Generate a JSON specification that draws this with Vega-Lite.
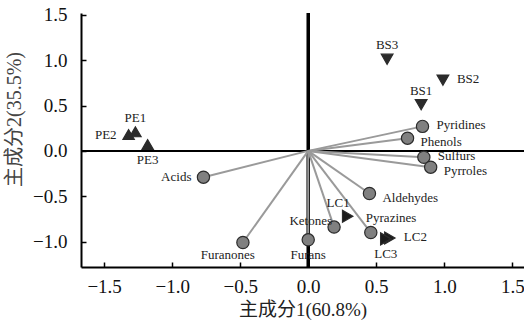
{
  "$schema": "https://vega.github.io/schema/vega-lite/v6.json",
  "width": 443,
  "height": 254,
  "autosize": {"type": "none"},
  "padding": {"left": 81, "top": 13, "right": 0, "bottom": 54},
  "background": "white",
  "config": {
    "view": {"stroke": null},
    "axis": {
      "grid": false,
      "domainColor": "#000000",
      "domainWidth": 2,
      "tickColor": "#000000",
      "tickWidth": 1.5,
      "tickSize": -5
    }
  },
  "data": {
    "values": [
      {"name": "PE1", "x": -1.27, "y": 0.21, "group": "PE", "pos": "above"},
      {"name": "PE2", "x": -1.32, "y": 0.18, "group": "PE", "pos": "left"},
      {"name": "PE3", "x": -1.18, "y": 0.07, "group": "PE", "pos": "below"},
      {"name": "BS3", "x": 0.58, "y": 1.01, "group": "BS", "pos": "above"},
      {"name": "BS2", "x": 0.99, "y": 0.78, "group": "BS", "pos": "right"},
      {"name": "BS1", "x": 0.83, "y": 0.51, "group": "BS", "pos": "above"},
      {"name": "LC1", "x": 0.29, "y": -0.72, "group": "LC", "pos": "aboveleft"},
      {"name": "LC2", "x": 0.6, "y": -0.96, "group": "LC", "pos": "right"},
      {"name": "LC3", "x": 0.57, "y": -0.97, "group": "LC", "pos": "below"},
      {"name": "Pyridines", "x": 0.84, "y": 0.27, "group": "var", "pos": "right"},
      {"name": "Phenols", "x": 0.73, "y": 0.14, "group": "var", "pos": "belowright"},
      {"name": "Sulfurs", "x": 0.85, "y": -0.07, "group": "var", "pos": "right"},
      {"name": "Pyrroles", "x": 0.9, "y": -0.18, "group": "var", "pos": "belowright"},
      {"name": "Aldehydes", "x": 0.45, "y": -0.47, "group": "var", "pos": "belowright"},
      {"name": "Pyrazines", "x": 0.46, "y": -0.9, "group": "var", "pos": "aboveright"},
      {"name": "Ketones", "x": 0.19, "y": -0.84, "group": "var", "pos": "upleft"},
      {"name": "Furans", "x": 0.0, "y": -0.98, "group": "var", "pos": "below"},
      {"name": "Acids", "x": -0.77, "y": -0.29, "group": "var", "pos": "left"},
      {"name": "Furanones", "x": -0.48, "y": -1.01, "group": "var", "pos": "belowleft"}
    ]
  },
  "encoding": {
    "x": {
      "field": "x",
      "type": "quantitative",
      "scale": {"domain": [-1.67, 1.586], "nice": false, "zero": false},
      "axis": {
        "title": "主成分1(60.8%)",
        "values": [-1.5, -1, -0.5, 0, 0.5, 1, 1.5],
        "labelFont": "Liberation Serif",
        "labelFontSize": 19,
        "labelColor": "#111111",
        "labelPadding": 15,
        "titleFont": "Liberation Serif, Noto Sans CJK SC",
        "titleFontSize": 19,
        "titleFontWeight": "normal",
        "titleColor": "#222222",
        "titlePadding": 4
      }
    },
    "y": {
      "field": "y",
      "type": "quantitative",
      "scale": {"domain": [-1.28, 1.52], "nice": false, "zero": false},
      "axis": {
        "title": "主成分2(35.5%)",
        "values": [-1, -0.5, 0, 0.5, 1, 1.5],
        "labelFont": "Liberation Serif",
        "labelFontSize": 19,
        "labelColor": "#111111",
        "labelPadding": 19,
        "titleFont": "Liberation Serif, Noto Sans CJK SC",
        "titleFontSize": 20,
        "titleFontWeight": "normal",
        "titleColor": "#444444",
        "titlePadding": 8,
        "titleY": 106
      }
    }
  },
  "layer": [
    {
      "mark": {"type": "rule", "color": "#000000", "strokeWidth": 2.5},
      "encoding": {
        "x": {"datum": 0, "type": "quantitative"},
        "y": {"datum": -1.28, "type": "quantitative"},
        "y2": {"datum": 1.52}
      }
    },
    {
      "mark": {"type": "rule", "color": "#000000", "strokeWidth": 1},
      "encoding": {
        "y": {"datum": 0, "type": "quantitative"},
        "x": {"datum": -1.67, "type": "quantitative"},
        "x2": {"datum": 1.586}
      }
    },
    {
      "transform": [{"filter": "datum.group == 'var'"}],
      "mark": {"type": "rule", "color": "#9a9a9a", "strokeWidth": 2},
      "encoding": {
        "x": {"datum": 0, "type": "quantitative"},
        "y": {"datum": 0, "type": "quantitative"},
        "x2": {"field": "x"},
        "y2": {"field": "y"}
      }
    },
    {
      "mark": {"type": "point", "filled": true, "opacity": 1, "stroke": "#2b2b2b", "strokeWidth": 1.2},
      "encoding": {
        "shape": {
          "field": "group",
          "type": "nominal",
          "scale": {"domain": ["PE", "BS", "LC", "var"], "range": ["triangle-up", "triangle-down", "triangle-right", "circle"]},
          "legend": null
        },
        "fill": {
          "field": "group",
          "type": "nominal",
          "scale": {"domain": ["PE", "BS", "LC", "var"], "range": ["#2b2b2b", "#2b2b2b", "#1a1a1a", "#808080"]},
          "legend": null
        },
        "size": {
          "field": "group",
          "type": "nominal",
          "scale": {"domain": ["PE", "BS", "LC", "var"], "range": [130, 150, 150, 170]},
          "legend": null
        }
      }
    },
    {
      "transform": [{"filter": "datum.pos == 'above'"}],
      "mark": {"type": "text", "font": "Liberation Serif", "fontSize": 13, "color": "#222222", "align": "center", "baseline": "middle", "dy": -14},
      "encoding": {"text": {"field": "name"}}
    },
    {
      "transform": [{"filter": "datum.pos == 'below'"}],
      "mark": {"type": "text", "font": "Liberation Serif", "fontSize": 13, "color": "#222222", "align": "center", "baseline": "middle", "dy": 15},
      "encoding": {"text": {"field": "name"}}
    },
    {
      "transform": [{"filter": "datum.pos == 'left'"}],
      "mark": {"type": "text", "font": "Liberation Serif", "fontSize": 13, "color": "#222222", "align": "right", "baseline": "middle", "dx": -12},
      "encoding": {"text": {"field": "name"}}
    },
    {
      "transform": [{"filter": "datum.pos == 'right'"}],
      "mark": {"type": "text", "font": "Liberation Serif", "fontSize": 13, "color": "#222222", "align": "left", "baseline": "middle", "dx": 14, "dy": -1},
      "encoding": {"text": {"field": "name"}}
    },
    {
      "transform": [{"filter": "datum.pos == 'belowright'"}],
      "mark": {"type": "text", "font": "Liberation Serif", "fontSize": 13, "color": "#222222", "align": "left", "baseline": "middle", "dx": 13, "dy": 4},
      "encoding": {"text": {"field": "name"}}
    },
    {
      "transform": [{"filter": "datum.pos == 'aboveleft'"}],
      "mark": {"type": "text", "font": "Liberation Serif", "fontSize": 13, "color": "#222222", "align": "right", "baseline": "middle", "dx": 2, "dy": -13},
      "encoding": {"text": {"field": "name"}}
    },
    {
      "transform": [{"filter": "datum.pos == 'upleft'"}],
      "mark": {"type": "text", "font": "Liberation Serif", "fontSize": 13, "color": "#222222", "align": "right", "baseline": "middle", "dx": -2, "dy": -6},
      "encoding": {"text": {"field": "name"}}
    },
    {
      "transform": [{"filter": "datum.pos == 'aboveright'"}],
      "mark": {"type": "text", "font": "Liberation Serif", "fontSize": 13, "color": "#222222", "align": "left", "baseline": "middle", "dx": -5, "dy": -15},
      "encoding": {"text": {"field": "name"}}
    },
    {
      "transform": [{"filter": "datum.pos == 'belowleft'"}],
      "mark": {"type": "text", "font": "Liberation Serif", "fontSize": 13, "color": "#222222", "align": "right", "baseline": "middle", "dx": 12, "dy": 12},
      "encoding": {"text": {"field": "name"}}
    }
  ]
}
